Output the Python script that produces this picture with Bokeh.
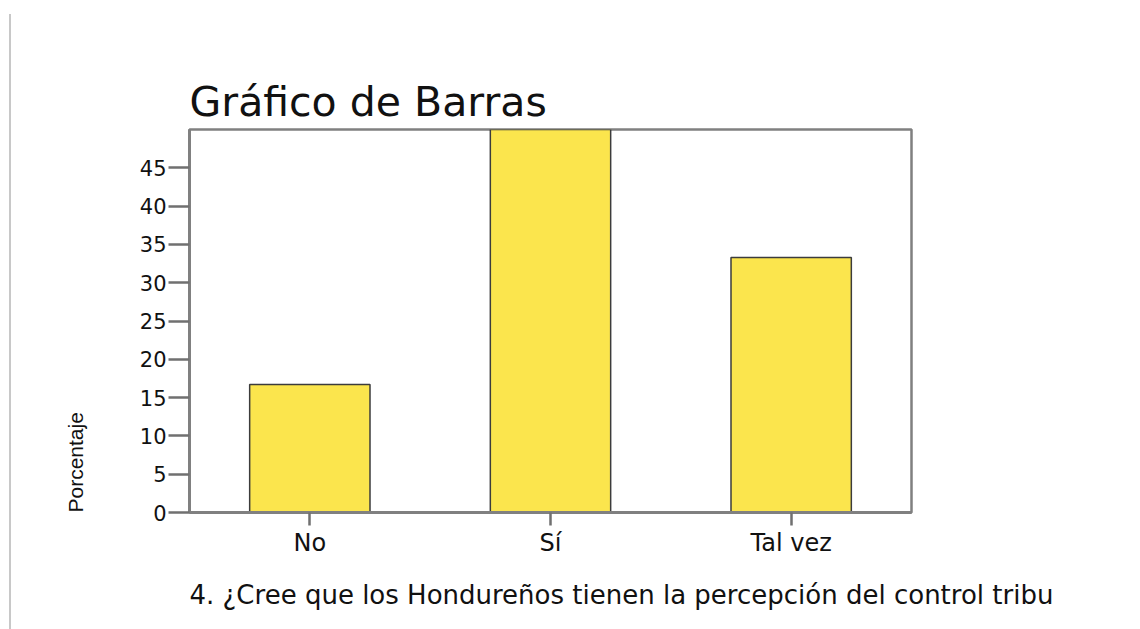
from bokeh.plotting import figure
from bokeh.models import FactorRange, Range1d, FixedTicker, Title, Div, Spacer
from bokeh.layouts import row
from bokeh.embed import file_html
from bokeh.resources import INLINE

categories = ["No", "Sí", "Tal vez"]
percentages = [16.7, 50.0, 33.3]
y_ticks = [0, 5, 10, 15, 20, 25, 30, 35, 40, 45]
title_text = "Gráfico de Barras"
y_label_text = "Porcentaje"
x_label_text = "4. ¿Cree que los Hondureños tienen la percepción del control tribu"

OX = 11                      # main figure starts after spacer + grey rule
W, H = 1121, 628
FL, FT, FR, FB = 189 - OX, 129, 911 - OX, 512
YMAX = 50.0

p = figure(width=W, height=H, output_backend="svg", toolbar_location=None,
           x_range=FactorRange(factors=categories, range_padding=0),
           y_range=Range1d(0, YMAX),
           min_border_left=FL, min_border_right=W - FR,
           min_border_top=FT, min_border_bottom=H - FB)

p.vbar(x=categories, top=percentages, width=0.5,
       fill_color="#FBE54D", line_color="#3c3c3c", line_width=1.5)

p.xgrid.visible = False
p.ygrid.visible = False
p.outline_line_color = "#808080"
p.outline_line_width = 2.5
p.background_fill_color = "white"
p.border_fill_color = "white"

ax = p.yaxis[0]
ax.ticker = FixedTicker(ticks=y_ticks)
ax.minor_tick_line_color = None
ax.major_tick_in = 0
ax.major_tick_out = 21
ax.major_tick_line_color = "#707070"
ax.major_tick_line_width = 2.5
ax.axis_line_color = "#808080"
ax.axis_line_width = 3
ax.major_label_standoff = 2
ax.major_label_text_font = "DejaVu Sans"
ax.major_label_text_font_size = "21px"
ax.major_label_text_color = "#111111"

bx = p.xaxis[0]
bx.major_tick_in = 0
bx.major_tick_out = 13
bx.major_tick_line_color = "#707070"
bx.major_tick_line_width = 2.5
bx.axis_line_color = "#808080"
bx.axis_line_width = 3
bx.major_label_standoff = 3
bx.major_label_text_font = "DejaVu Sans"
bx.major_label_text_font_size = "24px"
bx.major_label_text_color = "#111111"

p.title.text = title_text
p.title.align = "left"
p.title.text_font = "DejaVu Sans"
p.title.text_font_style = "normal"
p.title.text_font_size = "41px"
p.title.text_color = "#111111"
p.title.standoff = 8

p.add_layout(Title(text=y_label_text, align="left",
                   text_font="Liberation Sans", text_font_style="normal",
                   text_font_size="21px", text_color="#111111",
                   standoff=100), "left")

p.add_layout(Title(text=x_label_text, align="left",
                   text_font="DejaVu Sans", text_font_style="normal",
                   text_font_size="26px", text_color="#111111",
                   standoff=37), "below")

rule = Div(width=2, height=615, margin=(14, 0, 0, 0),
           styles={"background-color": "#c8c8c8"})

layout = row(Spacer(width=9, height=10), rule, p, spacing=0)

open("out.html", "w").write(file_html(layout, INLINE))
